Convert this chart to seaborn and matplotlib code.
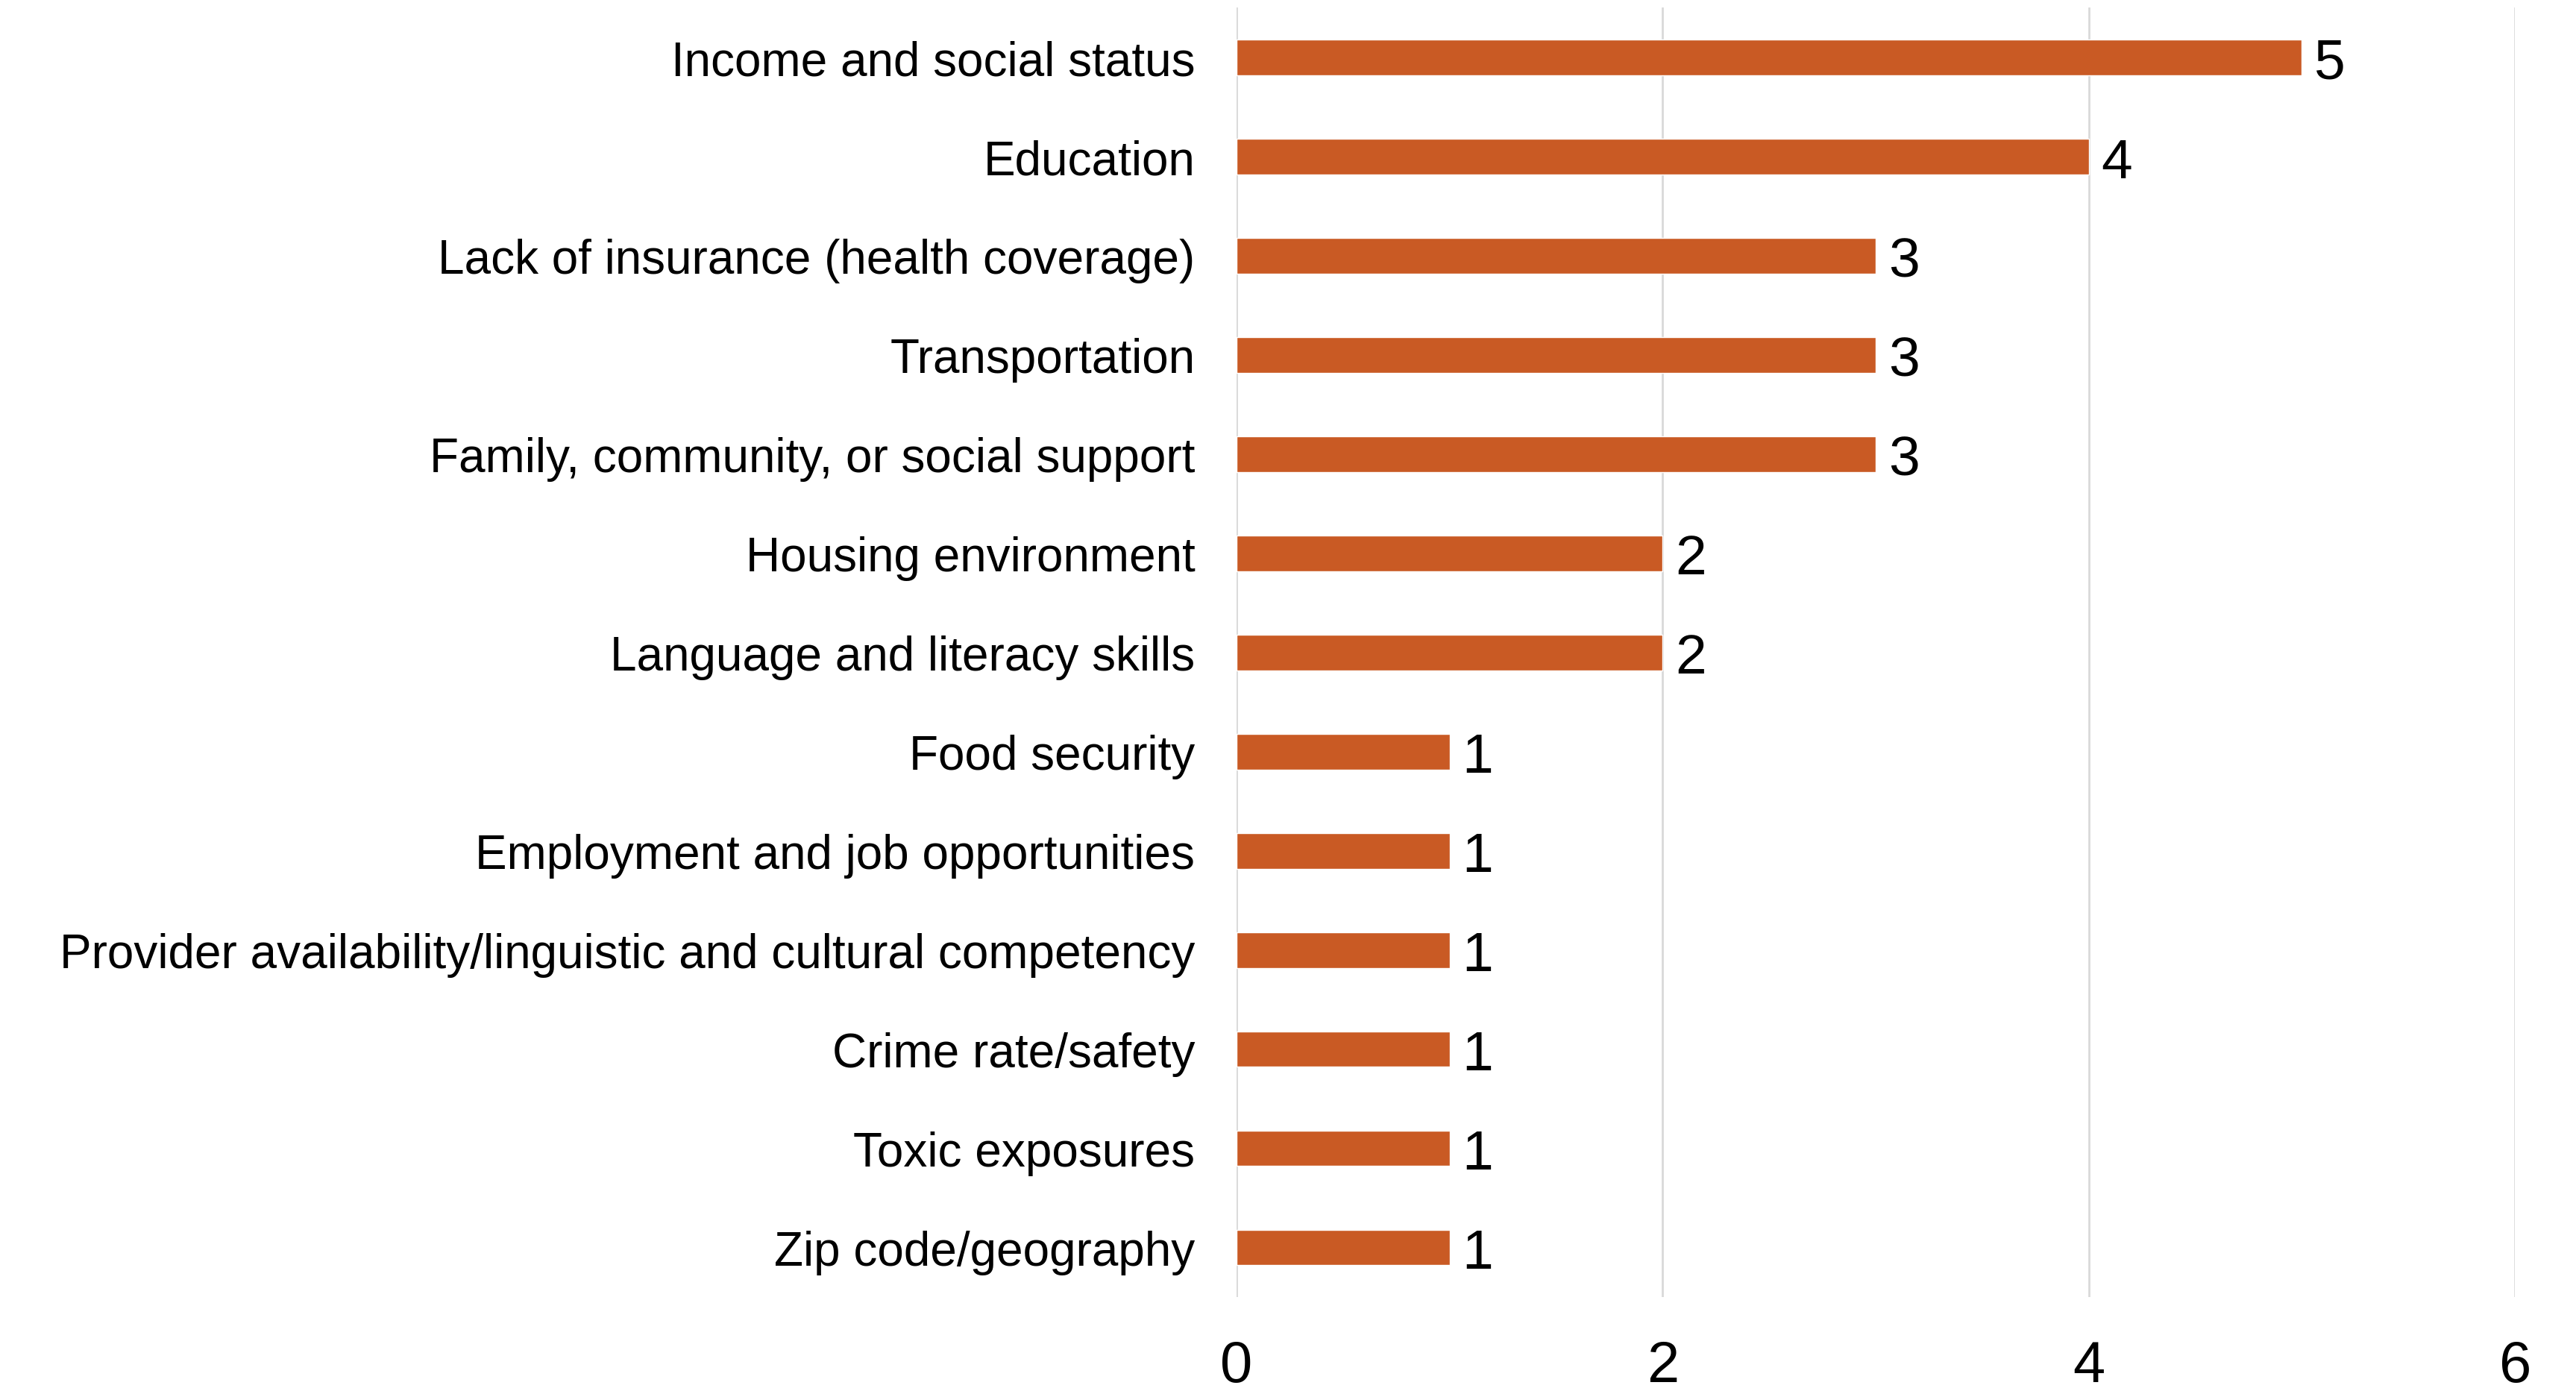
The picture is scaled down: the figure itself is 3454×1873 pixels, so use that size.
import matplotlib
matplotlib.use("Agg")
import matplotlib.pyplot as plt
import seaborn as sns
import pandas as pd

categories = [
    "Income and social status",
    "Education",
    "Lack of insurance (health coverage)",
    "Transportation",
    "Family, community, or social support",
    "Housing environment",
    "Language and literacy skills",
    "Food security",
    "Employment and job opportunities",
    "Provider availability/linguistic and cultural competency",
    "Crime rate/safety",
    "Toxic exposures",
    "Zip code/geography",
]
values = [5, 4, 3, 3, 3, 2, 2, 1, 1, 1, 1, 1, 1]
x_ticks = [0, 2, 4, 6]

df = pd.DataFrame({"category": categories, "value": values})

sns.set_theme(style="white")
plt.rcParams["font.family"] = ["Liberation Sans", "DejaVu Sans"]
plt.rcParams["text.color"] = "black"
plt.rcParams["xtick.color"] = "black"
plt.rcParams["ytick.color"] = "black"

fig = plt.figure(figsize=(34.54, 18.74), dpi=100)
ax = fig.add_axes([0.48, 0.0715, 0.4963, 0.9225])

sns.barplot(data=df, y="category", x="value", orient="h", color="#C95A24",
            saturation=1, width=0.36, ax=ax)

ax.set_xlim(0, 6)
ax.set_ylim(len(categories) - 0.5, -0.5)
ax.set_xticks(x_ticks)
ax.set_xticklabels([str(t) for t in x_ticks])
ax.xaxis.grid(True, color="#D9D9D9", linewidth=2)
ax.yaxis.grid(False)
ax.set_axisbelow(True)
for s in ax.spines.values():
    s.set_visible(False)
ax.set_xlabel("")
ax.set_ylabel("")
ax.tick_params(axis="x", length=0, pad=40, labelsize=56, labelcolor="black")
ax.tick_params(axis="y", length=0, pad=40, labelsize=46, labelcolor="black")

for i, v in enumerate(values):
    ax.annotate(str(v), xy=(v, i), xytext=(12, -6), textcoords="offset points",
                ha="left", va="center", fontsize=54, color="black")

fig.savefig("out.png", dpi=100)
